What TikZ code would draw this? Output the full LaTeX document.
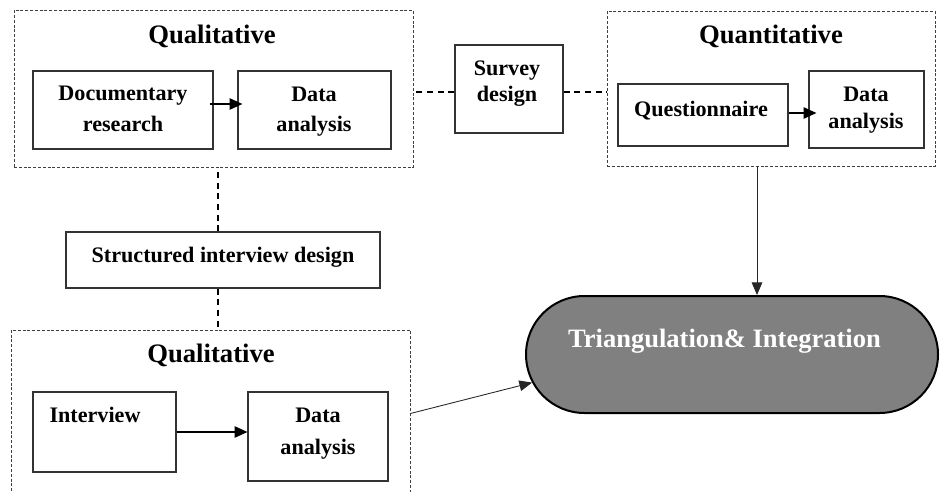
\documentclass[tikz,border=0pt]{standalone}
\usepackage{fontspec}
\setmainfont{Liberation Serif}
\usetikzlibrary{fit,arrows.meta,shapes.misc}

\begin{document}
\begin{tikzpicture}[x=0.75pt,y=-0.75pt,
  box/.style={draw=black!80,line width=0.9pt,inner sep=0pt},
  txt/.style={inner sep=0pt,anchor=base,font=\fontsize{16.6}{20}\selectfont\bfseries},
  group/.style={draw=black!75,line width=0.6pt,dash pattern=on 2.2pt off 1.4pt,inner sep=0pt},
  grouptitle/.style={inner sep=0pt,anchor=base,font=\fontsize{20}{24}\selectfont\bfseries},
  link/.style={line width=1.4pt,dash pattern=on 4.6pt off 3.4pt},
  arr/.style={line width=0.9pt,-{Triangle[length=9.5pt,width=8.5pt]}},
  thinarr/.style={line width=0.65pt,black!85,-{Triangle[length=9.5pt,width=8pt]}},
  stadium/.style={rounded rectangle,draw=black,line width=1.5pt,fill=black!50,
    inner sep=0pt,minimum width=309pt,minimum height=87.75pt},
]
\useasboundingbox (0,0) rectangle (942,492);

% upper qualitative strand
\node[group,fit={(14,10)(413,167)}] (qual1) {};
\node[grouptitle] (qual1t) at (212,44) {Qualitative};
\node[box,fit={(33,71)(213,149)}] (doc) {};
\node[txt] (doct1) at (123,100) {Documentary};
\node[txt] (doct2) at (123,132) {research};
\node[box,fit={(238,71)(391,149)}] (da1) {};
\node[txt] (da1t1) at (314,101) {Data};
\node[txt] (da1t2) at (314,131) {analysis};

% survey design
\node[box,fit={(455,45)(563,133)}] (survey) {};
\node[txt] (surveyt1) at (507,76) {Survey};
\node[txt] (surveyt2) at (507,101) {design};

% quantitative strand
\node[group,fit={(607,11)(935,166)}] (quant) {};
\node[grouptitle] (quantt) at (771,44) {Quantitative};
\node[box,fit={(618,84)(788,146)}] (quest) {};
\node[txt] (questt) at (701,116) {Questionnaire};
\node[box,fit={(809,71)(924,148)}] (da3) {};
\node[txt] (da3t1) at (866,101) {Data};
\node[txt] (da3t2) at (866,128) {analysis};

% structured interview design
\node[box,fit={(66,232)(380,288)}] (sid) {};
\node[txt] (sidt) at (223,262) {Structured interview design};

% lower qualitative strand
\node[group,fit={(11,330)(410,497)}] (qual2) {};
\node[grouptitle] (qual2t) at (211,362) {Qualitative};
\node[box,fit={(33,392)(176,472)}] (interview) {};
\node[txt] (interviewt) at (95,422) {Interview};
\node[box,fit={(248,392)(388,481)}] (da2) {};
\node[txt] (da2t1) at (318,422) {Data};
\node[txt] (da2t2) at (318,454) {analysis};

% triangulation
\node[stadium] (tri) at (732,354.5) {};
\node[inner sep=0pt,anchor=base,text=white,font=\fontsize{19.9}{24}\selectfont\bfseries]
  (trit) at (724.5,347) {Triangulation\& Integration};

% dashed links between designs and strands
\draw[link] ([yshift=-2.25pt]survey.west) -- ([yshift=-2.25pt]survey.west -| qual1.east);
\draw[link] ([yshift=-2.25pt]survey.east) -- ([yshift=-2.25pt]survey.east -| quant.west);
\draw[link] ([xshift=-3.75pt]sid.north) -- ([xshift=-3.75pt]sid.north |- qual1.south);
\draw[link] ([xshift=-3.75pt]sid.south) -- ([xshift=-3.75pt]sid.south |- qual2.north);

% flow inside the strands
\draw[arr] ([xshift=-3pt,yshift=4.5pt]doc.east) -- ([xshift=3.75pt,yshift=4.5pt]da1.west);
\draw[arr] ([yshift=1.5pt]quest.east) -- ([xshift=6pt,yshift=1.5pt]quest.east -| da3.west);
\draw[arr] (interview.east) -- (interview.east -| da2.west);

% into triangulation
\draw[thinarr] ([xshift=-10.5pt]quant.south) -- ([xshift=-10.5pt]quant.south |- tri.north);
\draw[thinarr] (qual2.east) -- (tri.188);
\end{tikzpicture}
\end{document}
